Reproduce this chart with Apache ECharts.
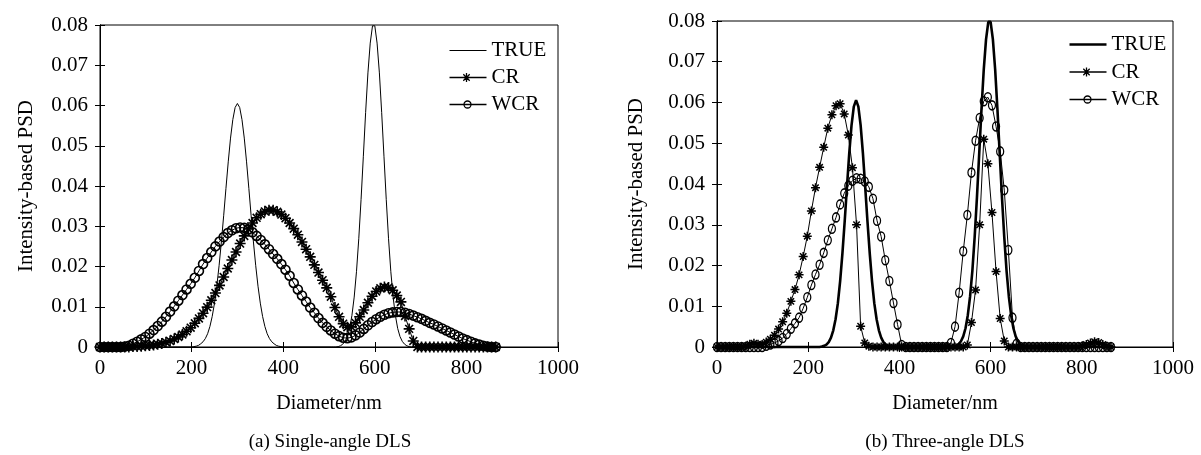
<!DOCTYPE html>
<html>
<head>
<meta charset="utf-8">
<script src="https://cdn.jsdelivr.net/npm/echarts@6/dist/echarts.min.js"></script>
<style>html,body{margin:0;padding:0;background:#fff}#c{width:1201px;height:455px}</style>
</head>
<body>
<div id="c"></div>
<script>
// Diameter grid (nm) of the inverted distributions
const diam = [
0,9,18,27,36,45,54,63,72,81,
90,99,108,117,126,135,144,153,162,171,
180,189,198,207,216,225,234,243,252,261,
270,279,288,297,306,315,324,333,342,351,
360,369,378,387,396,405,414,423,432,441,
450,459,468,477,486,495,504,513,522,531,
540,549,558,567,576,585,594,603,612,621,
630,639,648,657,666,675,684,693,702,711,
720,729,738,747,756,765,774,783,792,801,
810,819,828,837,846,855,864];

// Diameter grid (nm) of the true distribution
const trueX = [0,
200,205,210,215,220,225,230,235,240,245,250,255,260,265,270,275,280,285,290,295,
300,305,310,315,320,325,330,335,340,345,350,355,360,365,370,375,380,385,390,395,400,
500,505,510,515,520,525,530,535,540,545,550,555,560,565,570,575,580,585,590,595,
600,605,610,615,620,625,630,635,640,645,650,655,660,665,670,675,680,685,690,695,700,
870];

// (a) Single-angle DLS
const trueA = [0,
0,0.0001,0.0002,0.0004,0.0008,0.0013,0.0021,0.0033,0.0051,0.0076,0.0109,0.0151,0.0202,0.0261,0.0326,0.0394,0.0460,0.0519,0.0565,0.0595,
0.0605,0.0595,0.0565,0.0519,0.0460,0.0394,0.0326,0.0261,0.0202,0.0151,0.0109,0.0076,0.0051,0.0033,0.0021,0.0013,0.0008,0.0004,0.0002,0.0001,0,
0,0,0,0,0.0001,0.0003,0.0007,0.0014,0.0026,0.0046,0.0078,0.0124,0.0187,0.0269,0.0366,0.0474,0.0583,0.0681,0.0755,0.0798,
0.0798,0.0755,0.0681,0.0583,0.0474,0.0366,0.0269,0.0187,0.0124,0.0078,0.0046,0.0026,0.0014,0.0007,0.0003,0.0001,0,0,0,0,0,
0];
const crA = [
0,0,0,0,0,0,0,0,0.0001,0.0001,
0.0002,0.0003,0.0004,0.0005,0.0007,0.0009,0.0012,0.0015,0.0020,0.0025,
0.0031,0.0039,0.0048,0.0059,0.0071,0.0084,0.0099,0.0116,0.0134,0.0153,
0.0174,0.0195,0.0216,0.0236,0.0257,0.0276,0.0293,0.0308,0.0321,0.0330,
0.0337,0.0340,0.0340,0.0336,0.0329,0.0320,0.0308,0.0294,0.0279,0.0261,
0.0243,0.0224,0.0204,0.0185,0.0166,0.0147,0.0125,0.0098,0.0075,0.0058,
0.0049,0.0050,0.0060,0.0075,0.0092,0.0110,0.0126,0.0138,0.0146,0.0149,
0.0148,0.0141,0.0128,0.0112,0.0077,0.0045,0.0015,0,0,0,
0,0,0,0,0,0,0,0,0,0,
0,0,0,0,0,0,0];
const wcrA = [
0,0,0,0,0,0,0.0001,0.0003,0.0008,0.0013,
0.0019,0.0025,0.0033,0.0042,0.0052,0.0063,0.0075,0.0088,0.0101,0.0115,
0.0129,0.0143,0.0157,0.0172,0.0189,0.0206,0.0221,0.0236,0.0250,0.0262,
0.0273,0.0283,0.0290,0.0295,0.0297,0.0296,0.0292,0.0285,0.0276,0.0266,
0.0255,0.0243,0.0231,0.0219,0.0206,0.0192,0.0177,0.0159,0.0143,0.0128,
0.0113,0.0098,0.0085,0.0072,0.0060,0.0050,0.0041,0.0033,0.0027,0.0023,
0.0022,0.0024,0.0029,0.0036,0.0045,0.0054,0.0062,0.0069,0.0075,0.0080,
0.0084,0.0086,0.0087,0.0087,0.0085,0.0082,0.0078,0.0074,0.0070,0.0065,
0.0060,0.0056,0.0051,0.0046,0.0041,0.0036,0.0031,0.0026,0.0021,0.0017,
0.0013,0.0009,0.0006,0.0003,0.0001,0,0];

// (b) Three-angle DLS
const trueB = [0,
0,0,0,0,0,0,0.0001,0.0003,0.0006,0.0012,0.0023,0.0041,0.0068,0.0107,0.0161,0.0229,0.0308,0.0393,0.0475,0.0544,
0.0590,0.0606,0.0590,0.0544,0.0475,0.0393,0.0308,0.0229,0.0161,0.0107,0.0068,0.0041,0.0023,0.0012,0.0006,0.0003,0.0001,0,0,0,0,
0,0,0,0,0.0001,0.0003,0.0007,0.0014,0.0026,0.0046,0.0078,0.0124,0.0187,0.0269,0.0366,0.0474,0.0583,0.0681,0.0755,0.0798,
0.0798,0.0755,0.0681,0.0583,0.0474,0.0366,0.0269,0.0187,0.0124,0.0078,0.0046,0.0026,0.0014,0.0007,0.0003,0.0001,0,0,0,0,0,
0];
const crB = [
0,0,0,0,0,0,0,0.0002,0.0007,0.0009,
0.0007,0.0006,0.0012,0.0019,0.0029,0.0044,0.0062,0.0083,0.0112,0.0141,
0.0177,0.0222,0.0272,0.0334,0.0391,0.0441,0.0490,0.0537,0.0570,0.0592,
0.0597,0.0572,0.0520,0.0440,0.0300,0.0051,0.0010,0.0002,0,0,
0,0,0,0,0,0,0,0,0,0,
0,0,0,0,0,0,0,0,0,0,
0,0.0005,0.0060,0.0140,0.0300,0.0510,0.0450,0.0330,0.0185,0.0070,
0.0015,0,0,0,0,0,0,0,0,0,
0,0,0,0,0,0,0,0,0,0.0003,
0.0006,0.0010,0.0013,0.0011,0.0006,0.0002,0];
const wcrB = [
0,0,0,0,0,0,0,0,0,0,
0,0,0.0003,0.0006,0.0010,0.0015,0.0022,0.0032,0.0045,0.0058,
0.0072,0.0095,0.0122,0.0152,0.0178,0.0202,0.0231,0.0262,0.0290,0.0318,
0.0350,0.0377,0.0396,0.0408,0.0414,0.0413,0.0406,0.0393,0.0364,0.0310,
0.0271,0.0213,0.0162,0.0108,0.0055,0.0005,0,0,0,0,
0,0,0,0,0,0,0,0.0010,0.0050,0.0133,
0.0235,0.0324,0.0428,0.0506,0.0562,0.0603,0.0613,0.0593,0.0541,0.0480,
0.0385,0.0238,0.0072,0.0008,0,0,0,0,0,0,
0,0,0,0,0,0,0,0,0,0,
0,0,0,0,0,0,0];

const seriesNames = ['TRUE', 'CR', 'WCR'];
const captions = ['(a) Single-angle DLS', '(b) Three-angle DLS'];
const xTitle = 'Diameter/nm';
const yTitle = 'Intensity-based PSD';

const FONT = "'Liberation Serif','Times New Roman',Times,serif";
const pairs = (xs, ys) => xs.map((x, i) => [x, ys[i]]);
const STAR = 'path://M0,-5L0,5M-5,0L5,0M-3.55,-3.55L3.55,3.55M-3.55,3.55L3.55,-3.55';

function xAx(grid, top) {
  return {
    type: 'value', gridIndex: grid, position: top ? 'top' : 'bottom',
    min: 0, max: 1000, interval: 200,
    name: top ? '' : xTitle, nameLocation: 'middle', nameGap: 47,
    nameTextStyle: {fontFamily: FONT, fontSize: 20, color: '#000'},
    axisLine: {show: true, lineStyle: {color: '#000', width: 1}},
    axisTick: {show: true, inside: true, length: 5, lineStyle: {color: '#000'}},
    axisLabel: {show: !top, fontFamily: FONT, fontSize: 21, color: '#000', margin: 11,
      formatter: v => String(v)},
    splitLine: {show: false}
  };
}
function yAx(grid, right, gap) {
  return {
    type: 'value', gridIndex: grid, position: right ? 'right' : 'left',
    min: 0, max: 0.08, interval: 0.01,
    name: right ? '' : yTitle, nameLocation: 'middle', nameGap: gap, nameRotate: 90,
    nameTextStyle: {fontFamily: FONT, fontSize: 21, color: '#000'},
    axisLine: {show: true, lineStyle: {color: '#000', width: 1}},
    axisTick: {show: true, inside: true, length: 5, lineStyle: {color: '#000'}},
    axisLabel: {show: !right, fontFamily: FONT, fontSize: 21, color: '#000', margin: 12,
      formatter: v => v === 0 ? '0' : v.toFixed(2)},
    splitLine: {show: false}
  };
}
function trueSeries(name, g, data, w) {
  return {name, type: 'line', xAxisIndex: g * 2, yAxisIndex: g * 2, data: pairs(trueX, data),
    showSymbol: false, symbol: 'none', clip: false,
    lineStyle: {color: '#000', width: w}, itemStyle: {color: '#000'}, z: 3};
}
function crSeries(name, g, data, size, bw) {
  return {name, type: 'line', xAxisIndex: g * 2, yAxisIndex: g * 2, data: pairs(diam, data),
    symbol: STAR, symbolSize: size, showAllSymbol: true, clip: false,
    lineStyle: {color: '#000', width: 1},
    itemStyle: {color: 'none', borderColor: '#000', borderWidth: bw}, z: 4};
}
function wcrSeries(name, g, data, size, bw) {
  return {name, type: 'line', xAxisIndex: g * 2, yAxisIndex: g * 2, data: pairs(diam, data),
    symbol: 'circle', symbolSize: size, showAllSymbol: true, clip: false,
    lineStyle: {color: '#000', width: 1},
    itemStyle: {color: 'none', borderColor: '#000', borderWidth: bw}, z: 4};
}
const ICON_CR = 'path://M0,4.5L37,4.5M17,0L17,9M12.5,4.5L21.5,4.5M13.8,1.3L20.2,7.7M13.8,7.7L20.2,1.3';
const ICON_WCR = 'path://M0,4.5L37,4.5M14.5,4.5A3.5,3.5,0,1,1,21.5,4.5A3.5,3.5,0,1,1,14.5,4.5';
function legend(left, top, suffix, trueW, gap) {
  const stroke = {color: 'none', borderColor: '#000', borderWidth: 1.3};
  return {
    left, top, padding: 0, orient: 'vertical', itemWidth: 37, itemHeight: 9, itemGap: gap,
    symbolKeepAspect: true, selectedMode: false,
    data: [
      {name: seriesNames[0] + suffix, icon: 'path://M0,0L37,0L37,' + trueW + 'L0,' + trueW + 'Z',
       itemStyle: {color: '#000', borderWidth: 0}},
      {name: seriesNames[1] + suffix, icon: ICON_CR, itemStyle: stroke},
      {name: seriesNames[2] + suffix, icon: ICON_WCR, itemStyle: stroke}
    ],
    formatter: n => n.replace('_b', ''),
    textStyle: {fontFamily: FONT, fontSize: 21, color: '#000'}
  };
}

const chart = echarts.init(document.getElementById('c'), null, {renderer: 'canvas'});
chart.setOption({
  backgroundColor: '#fff',
  animation: false,
  title: [
    {text: captions[0], left: 330, top: 433, textAlign: 'center', padding: 0,
     textStyle: {fontFamily: FONT, fontSize: 19, fontWeight: 'normal', color: '#000'}},
    {text: captions[1], left: 945, top: 433, textAlign: 'center', padding: 0,
     textStyle: {fontFamily: FONT, fontSize: 19, fontWeight: 'normal', color: '#000'}}
  ],
  grid: [
    {left: 100, top: 25, width: 458, height: 322, show: true, borderColor: '#000', borderWidth: 1, backgroundColor: 'transparent'},
    {left: 717, top: 21, width: 456, height: 326, show: true, borderColor: '#000', borderWidth: 1, backgroundColor: 'transparent'}
  ],
  xAxis: [xAx(0, false), xAx(0, true), xAx(1, false), xAx(1, true)],
  yAxis: [yAx(0, false, 63), yAx(0, true, 0), yAx(1, false, 70), yAx(1, true, 0)],
  legend: [legend(447, 40, '', 1, 6), legend(1067, 34, '_b', 2.6, 6.5)],
  series: [
    trueSeries('TRUE', 0, trueA, 1),
    crSeries('CR', 0, crA, 11, 1.6),
    wcrSeries('WCR', 0, wcrA, 9, 1.6),
    trueSeries('TRUE_b', 1, trueB, 2.6),
    crSeries('CR_b', 1, crB, 9, 1.5),
    wcrSeries('WCR_b', 1, wcrB, [7, 9], 1.4)
  ]
});
</script>
</body>
</html>
